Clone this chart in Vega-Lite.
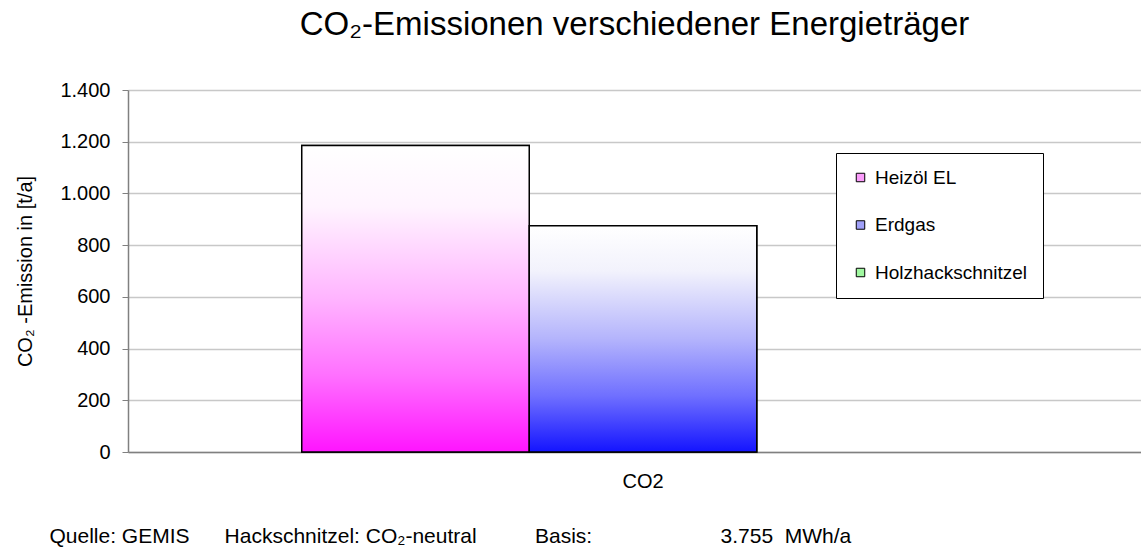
{
  "$schema": "https://vega.github.io/schema/vega-lite/v6.json",
  "width": 1013,
  "height": 362,
  "autosize": {"type": "none"},
  "padding": {"left": 128, "top": 90, "right": 0, "bottom": 97},
  "background": "white",
  "title": {
    "text": "CO₂-Emissionen verschiedener Energieträger",
    "fontSize": 33,
    "fontWeight": "normal",
    "color": "black",
    "anchor": "middle",
    "baseline": "alphabetic",
    "offset": 12
  },
  "data": {
    "values": [
      {"kat": "CO2", "series": "Heizöl EL", "value": 1185},
      {"kat": "CO2", "series": "Erdgas", "value": 875},
      {"kat": "CO2", "series": "Holzhackschnitzel", "value": 0}
    ]
  },
  "encoding": {
    "x": {
      "field": "kat",
      "type": "nominal",
      "scale": {"range": [0, 1030], "paddingInner": 0, "paddingOuter": 0},
      "axis": {
        "labelAngle": 0,
        "labelFontSize": 20,
        "labelColor": "black",
        "labelPadding": 19,
        "ticks": false,
        "domainColor": "#808080",
        "domainWidth": 1.5,
        "title": "Quelle: GEMIS\u00a0\u00a0\u00a0\u00a0\u00a0\u00a0Hackschnitzel: CO₂-neutral\u00a0\u00a0\u00a0\u00a0\u00a0\u00a0\u00a0\u00a0\u00a0\u00a0Basis:\u00a0\u00a0\u00a0\u00a0\u00a0\u00a0\u00a0\u00a0\u00a0\u00a0\u00a0\u00a0\u00a0\u00a0\u00a0\u00a0\u00a0\u00a0\u00a0\u00a0\u00a0\u00a03.755\u00a0\u00a0MWh/a",
        "titleFontSize": 21,
        "titleFontWeight": "normal",
        "titleColor": "black",
        "titleAlign": "left",
        "titleBaseline": "alphabetic",
        "titleX": -79,
        "titleY": 90
      }
    },
    "xOffset": {
      "field": "series",
      "type": "nominal",
      "scale": {"domain": ["Heizöl EL", "Erdgas", "Holzhackschnitzel"], "paddingInner": 0, "paddingOuter": 0.7637}
    },
    "y": {
      "field": "value",
      "type": "quantitative",
      "scale": {"domain": [0, 1400], "nice": false},
      "axis": {
        "values": [0, 200, 400, 600, 800, 1000, 1200, 1400],
        "labelExpr": "replace(format(datum.value, ','), ',', '.')",
        "labelFontSize": 20,
        "labelColor": "black",
        "labelPadding": 12,
        "tickSize": 6,
        "tickColor": "#808080",
        "domainColor": "#808080",
        "domainWidth": 1.5,
        "grid": true,
        "gridColor": "#c8c8c8",
        "gridWidth": 1.5,
        "title": "CO₂ -Emission in [t/a]",
        "titleFontSize": 20,
        "titleFontWeight": "normal",
        "titleColor": "black",
        "titlePadding": 24
      }
    }
  },
  "layer": [
    {
      "mark": {"type": "bar", "stroke": "black", "strokeWidth": 1.5},
      "encoding": {
        "color": {
          "field": "series",
          "type": "nominal",
          "scale": {"domain": ["Heizöl EL", "Erdgas", "Holzhackschnitzel"], "range": ["#fb9cfb", "#a0a0f8", "#a0f8a0"]},
          "legend": {
            "title": null,
            "orient": "none",
            "legendX": 708,
            "legendY": 63,
            "padding": 15,
            "rowPadding": 27.5,
            "strokeColor": "black",
            "fillColor": "white",
            "symbolType": "square",
            "symbolSize": 72,
            "symbolStrokeColor": "black",
            "symbolStrokeWidth": 1,
            "symbolOpacity": 1,
            "labelFontSize": 19,
            "labelColor": "black",
            "labelOffset": 5,
            "labelLimit": 300
          }
        },
        "strokeOpacity": {
          "condition": {"test": "datum.value === 0", "value": 0},
          "value": 1
        }
      }
    },
    {
      "mark": {"type": "bar", "stroke": "black", "strokeWidth": 1.5},
      "encoding": {
        "fill": {
          "condition": {
            "test": "datum.series === 'Heizöl EL'",
            "value": {
              "gradient": "linear", "x1": 0, "y1": 0, "x2": 0, "y2": 1,
              "stops": [
                {"offset": 0, "color": "#ffffff"},
                {"offset": 0.2, "color": "#fff4ff"},
                {"offset": 0.5, "color": "#ffb4ff"},
                {"offset": 0.75, "color": "#ff70ff"},
                {"offset": 1, "color": "#ff14ff"}
              ]
            }
          },
          "value": {
            "gradient": "linear", "x1": 0, "y1": 0, "x2": 0, "y2": 1,
            "stops": [
              {"offset": 0, "color": "#ffffff"},
              {"offset": 0.2, "color": "#f2f2fc"},
              {"offset": 0.5, "color": "#b4b4fc"},
              {"offset": 0.75, "color": "#7070ff"},
              {"offset": 1, "color": "#1414ff"}
            ]
          }
        },
        "strokeOpacity": {
          "condition": {"test": "datum.value === 0", "value": 0},
          "value": 1
        }
      }
    }
  ],
  "config": {
    "font": "Liberation Sans",
    "view": {"stroke": null}
  }
}
